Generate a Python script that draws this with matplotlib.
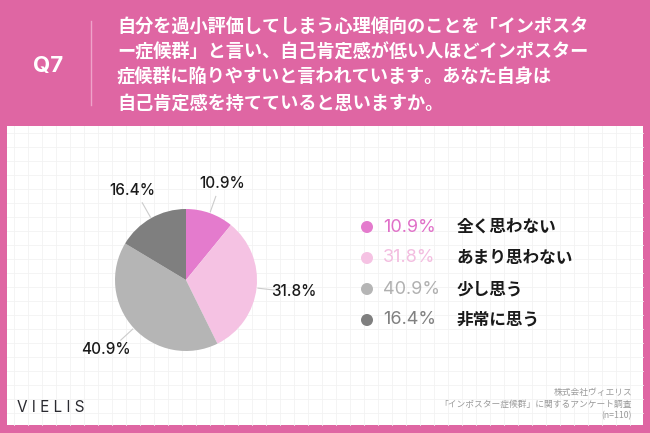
"""Q7 pie chart: self-esteem survey (VIELIS)."""

import matplotlib.pyplot as plt
import numpy as np
from matplotlib.patches import Circle, Rectangle

plt.rcParams["font.family"] = ["Noto Sans CJK JP", "DejaVu Sans"]

CATEGORIES = ["全く思わない", "あまり思わない", "少し思う", "非常に思う"]
SHARES = [10.9, 31.8, 40.9, 16.4]
COLORS = ["#E47BCD", "#F5C2E3", "#B5B5B5", "#7F7F7F"]
LEGEND_TEXT_COLORS = ["#E070C8", "#F3BDE0", "#B0B0B0", "#808080"]

QUESTION_LINES = [
    "自分を過小評価してしまう心理傾向のことを「インポスタ",
    "ー症候群」と言い、自己肯定感が低い人ほどインポスター",
    "症候群に陥りやすいと言われています。あなた自身は",
    "自己肯定感を持てていると思いますか。",
]
SOURCE_LINES = ["株式会社ヴィエリス", "「インポスター症候群」に関するアンケート調査", "(n=110)"]

PINK = "#DF66A3"
W, H = 650, 433


def main() -> None:
    fig = plt.figure(figsize=(6.5, 4.33), dpi=100)
    fig.patch.set_facecolor(PINK)

    # canvas axes in pixel coordinates (y downwards)
    bg = fig.add_axes([0, 0, 1, 1])
    bg.set_xlim(0, W)
    bg.set_ylim(H, 0)
    bg.axis("off")

    bg.add_patch(Rectangle((7, 126), 636, 299, facecolor="white", edgecolor="none"))
    for gx in np.arange(14, 643, 14):
        bg.plot([gx, gx], [126, 425], color="#F2F2F2", lw=0.6, zorder=1)
    for gy in np.arange(133, 425, 14):
        bg.plot([7, 643], [gy, gy], color="#F2F2F2", lw=0.6, zorder=1)

    # header
    bg.text(48, 66, "Q7", color="white", fontsize=16, fontweight="bold",
            ha="center", va="center", family=["Inter", "DejaVu Sans"])
    bg.plot([91, 91], [21, 105], color="#EFA3CA", lw=1)
    for i, line in enumerate(QUESTION_LINES):
        bg.text(117, 26 + i * 25.7, line, color="white", fontsize=13.1,
                fontweight="bold", ha="left", va="center")

    # legend
    for i, (cat, val) in enumerate(zip(CATEGORIES, SHARES)):
        y = 227 + i * 31
        bg.add_patch(Circle((367, y), 6, facecolor=COLORS[i], edgecolor="none", zorder=3))
        bg.text(383, y, f"{val}%", color=LEGEND_TEXT_COLORS[i], fontsize=13,
                ha="left", va="center", family=["Inter", "DejaVu Sans"])
        bg.text(457, y, cat, color="#1A1A1A", fontsize=12, fontweight="bold",
                ha="left", va="center")

    # footer
    bg.text(17, 407, "V I E L I S", color="#2A2A30", fontsize=11,
            ha="left", va="center", family=["Inter", "DejaVu Sans"])
    for i, line in enumerate(SOURCE_LINES):
        bg.text(632, 392 + i * 11.8, line, color="#9A9A9A", fontsize=6.3,
                ha="right", va="center")

    # pie
    cx, cy, r = 186, 280, 71
    pie_ax = fig.add_axes([(cx - r) / W, (H - cy - r) / H, 2 * r / W, 2 * r / H])
    wedges, _ = pie_ax.pie(SHARES, colors=COLORS, startangle=90, counterclock=False,
                           radius=1, wedgeprops=dict(linewidth=0))
    pie_ax.set_xlim(-1, 1)
    pie_ax.set_ylim(-1, 1)
    pie_ax.set_aspect("equal")
    pie_ax.axis("off")
    for w, val in zip(wedges, SHARES):
        ang = np.deg2rad((w.theta1 + w.theta2) / 2)
        ca, sa = np.cos(ang), np.sin(ang)
        pie_ax.plot([1.02 * ca, 1.25 * ca], [1.02 * sa, 1.25 * sa],
                    color="#CCCCCC", lw=0.8, clip_on=False)
        pie_ax.text(1.53 * ca, 1.45 * sa, f"{val}%", fontsize=11, color="#1A1A1A",
                    fontweight="medium", ha="center", va="center", clip_on=False,
                    family=["Inter", "DejaVu Sans"])

    fig.savefig("out.png", dpi=100, facecolor=PINK)
    plt.close(fig)


if __name__ == "__main__":
    main()
